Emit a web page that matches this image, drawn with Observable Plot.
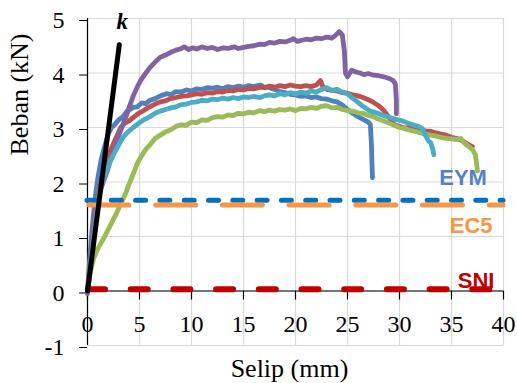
<!DOCTYPE html>
<html>
<head>
<meta charset="utf-8">
<script src="https://cdn.jsdelivr.net/npm/d3@7"></script>
<script src="https://cdn.jsdelivr.net/npm/@observablehq/plot@0.6"></script>
<style>
  html, body { margin: 0; padding: 0; background: #fff; }
  #chart { width: 517px; height: 383px; }
</style>
</head>
<body>
<div id="chart"></div>
<script>
// ---- Data ----
const xTicks = [0, 5, 10, 15, 20, 25, 30, 35, 40];
const yTicks = [-1, 0, 1, 2, 3, 4, 5];

const seriesBlue = [[0,0],[0.2,0.55],[0.4,1.05],[0.6,1.45],[0.8,1.8],[1.0,2.08],[1.3,2.4],[1.6,2.62],[2.0,2.88],[2.3,3.0],[2.6,3.05],[3.0,3.14],[3.4,3.2],[3.8,3.3],[4.4,3.37],[4.8,3.38],[5.2,3.45],[5.6,3.44],[6.0,3.5],[6.5,3.53],[7.0,3.58],[7.6,3.62],[8.0,3.6],[8.5,3.66],[9.0,3.65],[9.5,3.69],[10.0,3.67],[10.5,3.71],[11.0,3.7],[11.5,3.73],[12.0,3.72],[12.5,3.74],[13.0,3.71],[13.5,3.75],[14.0,3.73],[14.5,3.76],[15.0,3.74],[15.5,3.77],[16.0,3.75],[16.6,3.78],[17.0,3.74],[17.5,3.73],[18.0,3.7],[18.5,3.66],[19.0,3.64],[19.5,3.61],[20.0,3.6],[20.5,3.57],[21.0,3.58],[21.5,3.55],[22.0,3.56],[22.5,3.53],[23.0,3.52],[23.5,3.49],[24.0,3.47],[24.5,3.41],[25.0,3.33],[25.5,3.26],[26.0,3.2],[26.5,3.15],[27.0,3.1],[27.2,3.05],[27.3,2.7],[27.35,2.35],[27.4,2.08]];

const seriesRed = [[0,0],[0.2,0.4],[0.4,0.85],[0.6,1.2],[0.8,1.5],[1.0,1.72],[1.3,1.98],[1.6,2.2],[2.0,2.45],[2.2,2.57],[2.6,2.75],[3.0,2.92],[3.2,3.0],[3.6,3.08],[4.0,3.12],[4.5,3.2],[5.0,3.27],[5.4,3.31],[5.8,3.36],[6.2,3.4],[6.6,3.44],[7.0,3.47],[7.5,3.49],[8.0,3.53],[8.5,3.55],[9.0,3.57],[9.5,3.58],[10.0,3.6],[10.5,3.62],[11.0,3.61],[11.5,3.64],[12.0,3.63],[12.5,3.66],[13.0,3.65],[13.5,3.68],[14.0,3.67],[14.5,3.7],[15.0,3.69],[15.5,3.72],[16.0,3.71],[16.6,3.74],[17.0,3.73],[17.5,3.76],[18.0,3.74],[18.5,3.77],[19.0,3.75],[19.5,3.78],[20.0,3.76],[20.5,3.75],[21.0,3.77],[21.5,3.75],[22.0,3.78],[22.4,3.86],[22.6,3.76],[23.0,3.7],[23.5,3.68],[24.0,3.67],[24.5,3.64],[25.0,3.63],[25.5,3.6],[26.0,3.58],[26.5,3.55],[27.0,3.51],[27.5,3.46],[28.0,3.4],[28.5,3.31],[29.0,3.18],[29.5,3.05],[30.0,3.02],[30.5,2.99],[31.0,3.0],[31.5,2.97],[32.0,2.96],[32.5,2.94],[33.0,2.93],[33.5,2.9],[34.0,2.88],[34.5,2.86],[35.0,2.82],[35.5,2.8],[36.0,2.76],[36.5,2.7],[37.0,2.65]];

const seriesGreen = [[0,0],[0.2,0.25],[0.4,0.45],[0.6,0.6],[0.9,0.74],[1.2,0.85],[1.6,0.98],[2.0,1.13],[2.4,1.28],[2.8,1.43],[3.2,1.6],[3.6,1.76],[4.0,1.96],[4.4,2.15],[4.8,2.35],[5.2,2.48],[5.6,2.6],[6.0,2.68],[6.5,2.8],[7.0,2.86],[7.5,2.92],[8.0,2.96],[8.5,3.02],[9.0,3.05],[9.5,3.04],[10.0,3.1],[10.5,3.09],[11.0,3.14],[11.5,3.13],[12.0,3.18],[12.5,3.2],[13.0,3.19],[13.5,3.23],[14.0,3.22],[14.5,3.26],[15.0,3.25],[15.5,3.28],[16.0,3.27],[16.6,3.31],[17.0,3.29],[17.5,3.32],[18.0,3.3],[18.5,3.33],[19.0,3.32],[19.5,3.34],[20.0,3.31],[20.5,3.35],[21.0,3.34],[21.5,3.37],[22.0,3.35],[22.5,3.39],[23.0,3.4],[23.5,3.36],[24.0,3.37],[24.5,3.33],[25.0,3.31],[25.5,3.3],[26.0,3.27],[26.5,3.26],[27.0,3.22],[27.5,3.2],[28.0,3.15],[28.5,3.12],[29.0,3.08],[29.5,3.04],[30.0,3.0],[30.5,2.98],[31.0,2.95],[31.5,2.93],[32.0,2.9],[32.5,2.88],[33.0,2.86],[33.5,2.84],[34.0,2.82],[34.5,2.8],[35.0,2.79],[35.5,2.78],[35.9,2.8],[36.2,2.72],[36.6,2.66],[37.0,2.6],[37.3,2.5],[37.4,2.35],[37.5,2.2]];

const seriesPurple = [[0,-0.05],[0.2,0.3],[0.4,0.75],[0.6,1.1],[0.8,1.4],[1.0,1.65],[1.3,1.88],[1.6,2.05],[1.9,2.2],[2.2,2.4],[2.6,2.62],[3.0,2.85],[3.4,3.05],[3.8,3.25],[4.1,3.42],[4.4,3.58],[4.8,3.75],[5.1,3.86],[5.5,3.97],[6.0,4.1],[6.5,4.2],[7.0,4.29],[7.5,4.33],[8.0,4.38],[8.5,4.42],[8.9,4.44],[9.3,4.48],[9.7,4.43],[10.1,4.46],[10.5,4.44],[11.0,4.48],[11.5,4.45],[12.0,4.47],[12.5,4.43],[13.0,4.46],[13.5,4.45],[14.1,4.48],[14.5,4.45],[15.0,4.47],[15.5,4.49],[16.0,4.5],[16.6,4.53],[17.0,4.52],[17.5,4.56],[18.0,4.55],[18.5,4.58],[19.0,4.57],[19.5,4.6],[19.8,4.63],[20.2,4.58],[20.6,4.6],[21.0,4.62],[21.5,4.61],[22.0,4.64],[22.5,4.63],[23.0,4.66],[23.5,4.64],[23.9,4.7],[24.2,4.76],[24.5,4.7],[24.7,4.4],[24.8,4.0],[25.0,3.93],[25.4,4.05],[25.8,4.02],[26.2,4.0],[26.6,3.97],[27.0,3.99],[27.5,3.96],[28.0,3.95],[28.5,3.93],[29.0,3.9],[29.4,3.86],[29.6,3.8],[29.7,3.5],[29.7,3.25]];

const seriesAqua = [[0,0],[0.2,0.35],[0.4,0.7],[0.6,1.0],[0.8,1.3],[1.0,1.6],[1.2,1.85],[1.5,2.05],[1.8,2.2],[2.2,2.38],[2.5,2.5],[3.0,2.68],[3.4,2.82],[3.9,2.92],[4.4,3.0],[5.0,3.09],[5.5,3.15],[6.0,3.2],[6.5,3.26],[7.0,3.3],[7.5,3.33],[8.0,3.36],[8.5,3.38],[9.0,3.42],[9.5,3.43],[10.0,3.46],[10.5,3.47],[11.0,3.5],[11.5,3.49],[12.0,3.52],[12.5,3.51],[13.0,3.54],[13.5,3.52],[14.0,3.55],[14.5,3.53],[15.0,3.56],[15.5,3.55],[16.0,3.57],[16.6,3.55],[17.0,3.58],[17.5,3.6],[18.0,3.58],[18.5,3.62],[19.0,3.6],[19.5,3.64],[20.0,3.62],[20.5,3.65],[21.0,3.63],[21.5,3.67],[22.0,3.65],[22.5,3.7],[23.0,3.73],[23.5,3.68],[24.0,3.7],[24.5,3.65],[25.0,3.62],[25.4,3.55],[25.9,3.48],[26.4,3.4],[26.8,3.35],[27.2,3.3],[27.8,3.27],[28.3,3.23],[28.8,3.2],[29.3,3.17],[29.8,3.14],[30.3,3.12],[30.8,3.08],[31.3,3.05],[31.8,3.02],[32.2,2.98],[32.5,2.85],[32.8,2.75],[33.0,2.72],[33.2,2.6],[33.3,2.5]];

const kLine = [[0,0],[3.06,4.52]];
const kLabel = "k";

const refNames = ["EYM", "EC5", "SNI"];
const refValues = [1.665, 1.58, 0.03];

const xLabel = "Selip (mm)";
const yLabel = "Beban (kN)";

// ---- Styles ----
const curveColors = {blue:"#4F81BD", red:"#C0504D", green:"#9BBB59", purple:"#8064A2", aqua:"#4BACC6"};
const refLineStyle = {
  EYM: {stroke:"#0070C0", strokeWidth:5, dash:"10 14.3", offset:0, text:"#5582C2", dx:-4, dy:-15},
  EC5: {stroke:"#F79646", strokeWidth:5, dash:"40 26.7", offset:-2, text:"#F79646", dx:4, dy:28},
  SNI: {stroke:"#C00000", strokeWidth:6, dash:"17 25.7", offset:-1, text:"#C00000", dx:9, dy:-1}
};
const refs = refNames.map((name, i) => ({name, value: refValues[i]}));

const serif = "'Liberation Serif', 'Times New Roman', serif";
const sans = "'Liberation Sans', Arial, sans-serif";

const curve = (data, color) => Plot.line(data, {
  x: d => d[0], y: d => d[1], stroke: color, strokeWidth: 4.8,
  strokeLinejoin: "round", strokeLinecap: "round"
});

const tickDown = {draw(context, l) { context.moveTo(0, 0); context.lineTo(0, -l); }};

const chart = Plot.plot({
  width: 517,
  height: 383,
  marginLeft: 87,
  marginRight: 14,
  marginTop: 18,
  marginBottom: 38,
  x: {domain: [0, 40], axis: null},
  y: {domain: [-1, 5]},
  style: `font-family: ${serif}; background: white; color: black; overflow: visible;`,
  marks: [
    Plot.gridX(xTicks, {stroke: "#d9d9d9", strokeOpacity: 1, strokeWidth: 1.2}),
    Plot.gridY(yTicks, {stroke: "#d9d9d9", strokeOpacity: 1, strokeWidth: 1.2}),
    Plot.ruleX([0], {stroke: "black", strokeWidth: 1.2}),
    Plot.ruleY([0], {stroke: "black", strokeWidth: 1.2}),
    Plot.axisY(yTicks, {tickSize: 8, tickPadding: 15, fontSize: 24, dy: 2, fontFamily: serif,
      tickFormat: d => String(d), label: null, stroke: "black"}),
    Plot.vector(xTicks, {x: d => d, y: 0, length: 8, rotate: 180, anchor: "start",
      shape: tickDown, stroke: "black", strokeWidth: 1.2}),
    Plot.text(xTicks, {x: d => d, y: 0, dy: 41, text: d => String(d), fontSize: 24, fontFamily: serif,
      lineAnchor: "bottom", fill: "black"}),
    Plot.text([yLabel], {frameAnchor: "left", rotate: -90, dx: -60, dy: -26.5, fontFamily: serif,
      fontSize: 26, lineAnchor: "bottom", fill: "black"}),
    Plot.text([xLabel], {frameAnchor: "bottom", dx: -6, dy: 31, fontFamily: serif,
      fontSize: 26, lineAnchor: "bottom", fill: "black"}),
    curve(seriesBlue, curveColors.blue),
    curve(seriesRed, curveColors.red),
    curve(seriesGreen, curveColors.green),
    curve(seriesPurple, curveColors.purple),
    curve(seriesAqua, curveColors.aqua),
    ...refs.map(r => Plot.ruleY([r], {
      y: d => d.value,
      stroke: refLineStyle[r.name].stroke,
      strokeWidth: refLineStyle[r.name].strokeWidth,
      strokeDasharray: refLineStyle[r.name].dash,
      strokeDashoffset: refLineStyle[r.name].offset,
      strokeLinecap: "round"
    })),
    ...refs.map(r => Plot.text([r], {
      x: 36.5, y: d => d.value, text: d => d.name,
      dx: refLineStyle[r.name].dx,
      dy: refLineStyle[r.name].dy,
      fill: refLineStyle[r.name].text,
      fontFamily: sans, fontWeight: "bold", fontSize: 22, lineAnchor: "bottom"
    })),
    Plot.line(kLine, {x: d => d[0], y: d => d[1], stroke: "black", strokeWidth: 5, strokeLinecap: "round"}),
    Plot.text([kLine[1]], {x: d => d[0], y: d => d[1], text: [kLabel], dx: 3, dy: -16, fontFamily: serif,
      fontSize: 23, fontWeight: "bold", fontStyle: "italic", lineAnchor: "bottom", fill: "black"})
  ]
});
document.getElementById("chart").appendChild(chart);
</script>
</body>
</html>
